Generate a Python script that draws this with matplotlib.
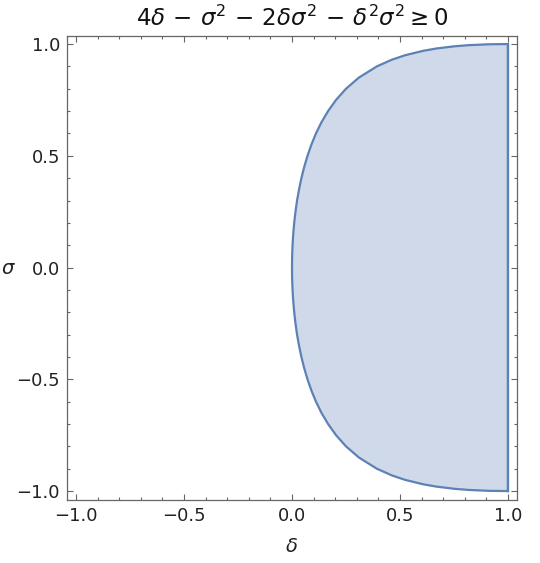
import numpy as np
import matplotlib
matplotlib.use("Agg")
import matplotlib.pyplot as plt
from matplotlib.ticker import MultipleLocator, FuncFormatter

# boundary of the region, upper half (sigma >= 0)
sigma_upper = [0.0, 0.05, 0.1, 0.15, 0.2, 0.25, 0.3, 0.35, 0.4, 0.45, 0.5, 0.55,
               0.6, 0.65, 0.7, 0.75, 0.8, 0.85, 0.9, 0.93, 0.95, 0.97, 0.98,
               0.99, 0.995, 0.999, 1.0]
delta_upper = [0.0, 0.0006, 0.0025, 0.0057, 0.0102, 0.0161, 0.0234, 0.0327,
               0.0435, 0.0565, 0.0718, 0.0898, 0.111, 0.1364, 0.167, 0.204,
               0.25, 0.31, 0.393, 0.4625, 0.524, 0.609, 0.668, 0.753, 0.818,
               0.914, 1.0]
delta_right = 1.0

title = r"$4\delta\,-\,\sigma^2\,-\,2\delta\sigma^2\,-\,\delta^2\sigma^2{\geq}0$"

plt.rcParams["mathtext.fontset"] = "dejavusans"
plt.rcParams["font.family"] = "DejaVu Sans"

line_col = "#5e81b5"
fill_col = "#cfd9e9"
frame_col = "#666666"

# closed outline: lower half, upper half, then the right edge at delta = 1
sig = np.array(sigma_upper)
dl = np.array(delta_upper)
curve_d = np.concatenate([dl[::-1], dl[1:]])
curve_s = np.concatenate([-sig[::-1], sig[1:]])
poly_d = np.append(curve_d, delta_right)
poly_s = np.append(curve_s, -1.0)

fig = plt.figure(figsize=(5.4, 5.63), dpi=100)
ax = fig.add_axes([67 / 540, 1 - 500 / 563, 450 / 540, 464 / 563])

ax.fill(poly_d, poly_s, color=fill_col, lw=0)
ax.plot(poly_d, poly_s, color=line_col, lw=1.6, solid_joinstyle="round")
ax.plot([delta_right, delta_right], [-1, 1], color=line_col, lw=1.6)

ax.set_xlim(-1.042, 1.042)
ax.set_ylim(-1.04, 1.036)

for s in ax.spines.values():
    s.set_color(frame_col)
    s.set_linewidth(0.9)

fmt = FuncFormatter(lambda v, p: f"{v:.1f}".replace("-", "\u2212"))
ax.xaxis.set_major_locator(MultipleLocator(0.5))
ax.xaxis.set_minor_locator(MultipleLocator(0.1))
ax.yaxis.set_major_locator(MultipleLocator(0.5))
ax.yaxis.set_minor_locator(MultipleLocator(0.1))
ax.xaxis.set_major_formatter(fmt)
ax.yaxis.set_major_formatter(fmt)
ax.tick_params(which="both", direction="in", top=True, right=True,
               color=frame_col, width=0.8, labelsize=13, labelcolor="#222222")
ax.tick_params(which="major", length=4.5, pad=5)
ax.tick_params(which="minor", length=2.5)

ax.set_xlabel(r"$\delta$", fontsize=14, color="#222222", labelpad=9)
ax.set_ylabel(r"$\sigma$", fontsize=14, color="#222222", rotation=0, va="center", ha="center")
ax.yaxis.set_label_coords(-59 / 450, 0.5)
ax.set_title(title, fontsize=16.5, color="#111111", pad=7)

fig.savefig("out.png", dpi=100)
